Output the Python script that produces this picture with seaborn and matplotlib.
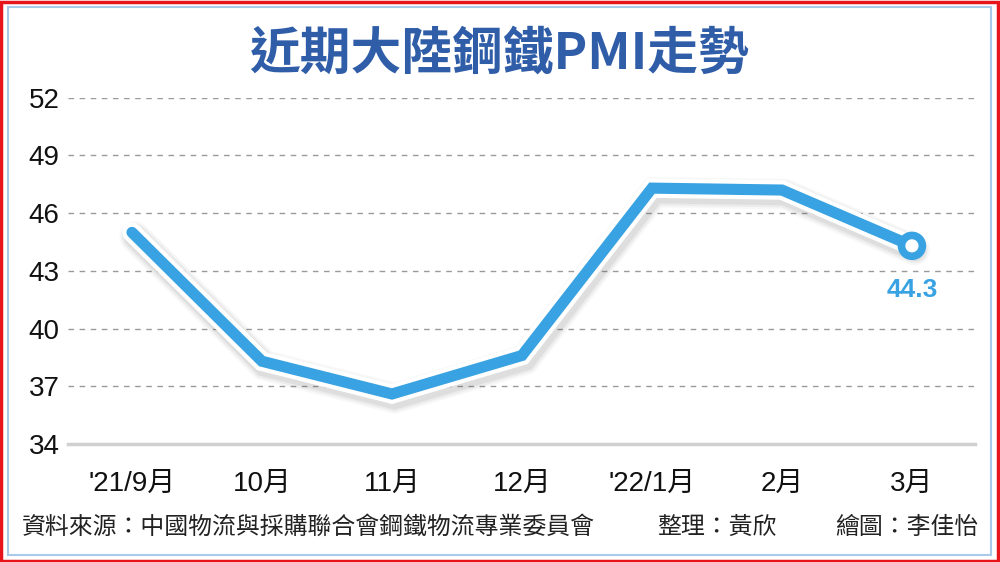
import numpy as np
import pandas as pd
import seaborn as sns
import matplotlib.pyplot as plt
import matplotlib.patheffects as pe
from matplotlib.patches import Rectangle

# 資料
months = ["'21/9月", "10月", "11月", "12月", "'22/1月", "2月", "3月"]
pmi = [45.0, 38.3, 36.6, 38.6, 47.3, 47.2, 44.3]
y_ticks = [34, 37, 40, 43, 46, 49, 52]

title = "近期大陸鋼鐵PMI走勢"
source = "資料來源：中國物流與採購聯合會鋼鐵物流專業委員會"
editor = "整理：黃欣"
artist = "繪圖：李佳怡"

df = pd.DataFrame({"pos": np.arange(len(months)), "pmi": pmi})

sns.set_style("white")
plt.rcParams["font.family"] = ["Liberation Sans", "Noto Sans CJK TC", "DejaVu Sans"]
cjk = ["Noto Sans CJK TC", "DejaVu Sans"]

line_color = "#38a2e2"
title_color = "#2f5da8"

fig = plt.figure(figsize=(10, 5.62), dpi=100)
fig.patch.set_facecolor("white")

# 外框
fig.patches.append(Rectangle((0.001, 0.002), 0.997, 0.995, transform=fig.transFigure,
                             fill=False, edgecolor="#e8141b", linewidth=2.5))
fig.patches.append(Rectangle((0.008, 0.013), 0.983, 0.975, transform=fig.transFigure,
                             fill=False, edgecolor="#a9c9ea", linewidth=1.5))

ax = fig.add_axes([0.068, 1 - 444 / 562, 0.907, (444 - 97.7) / 562])

# 柔和陰影：幾層疊加
shadow = [pe.SimpleLineShadow(offset=(2, -3), shadow_color="#444444", alpha=a, linewidth=w)
          for w, a in [(22, 0.04), (19, 0.06), (16, 0.08)]]
effects = shadow + [pe.Stroke(linewidth=14, foreground="white"), pe.Normal()]
sns.lineplot(data=df, x="pos", y="pmi", ax=ax, color=line_color, linewidth=8,
             sort=False, path_effects=effects, solid_joinstyle="miter",
             solid_capstyle="round", zorder=5, clip_on=False)

# 最後一點
ax.plot(df["pos"].iloc[-1], df["pmi"].iloc[-1], marker="o", markersize=15,
        markerfacecolor="white", markeredgecolor=line_color, markeredgewidth=5.5,
        zorder=6, clip_on=False,
        path_effects=[pe.Stroke(linewidth=4, foreground="white"), pe.Normal()])
ax.annotate(f"{pmi[-1]}", (df["pos"].iloc[-1], pmi[-1]), xytext=(0, -32),
            textcoords="offset points", ha="center", va="center",
            fontsize=19, fontweight="bold", color=line_color)

ax.set_xlim(-0.492, 6.485)
ax.set_ylim(34, 52)
ax.set_yticks(y_ticks)
ax.set_xticks(df["pos"])
ax.set_xticklabels(months)
ax.set_xlabel("")
ax.set_ylabel("")

ax.yaxis.grid(True, linestyle=(0, (4, 4)), color="#9a9a9a", linewidth=1)
ax.xaxis.grid(False)
for s in ["left", "top", "right"]:
    ax.spines[s].set_visible(False)
ax.spines["bottom"].set_color("#d0d0d0")
ax.spines["bottom"].set_linewidth(2.5)
ax.spines["bottom"].set_zorder(4)

ax.tick_params(axis="x", length=8, width=1.5, color="#d0d0d0", pad=11,
               labelsize=20, labelcolor="#111111")
ax.tick_params(axis="y", length=0, pad=6, labelsize=20, labelcolor="#111111")
ax.set_facecolor("white")

# 標題與註記
fig.text(0.499, 1 - 54 / 562, title, ha="center", va="center", fontsize=36.5,
         fontweight="bold", color=title_color, family=cjk)
fig.text(0.022, 1 - 527 / 562, source, ha="left", va="center", fontsize=17.2,
         color="#222222", family=cjk)
fig.text(0.657, 1 - 527 / 562, editor, ha="left", va="center", fontsize=17.2,
         color="#222222", family=cjk)
fig.text(0.978, 1 - 527 / 562, artist, ha="right", va="center", fontsize=17.2,
         color="#222222", family=cjk)

fig.savefig("out.png", dpi=100)
